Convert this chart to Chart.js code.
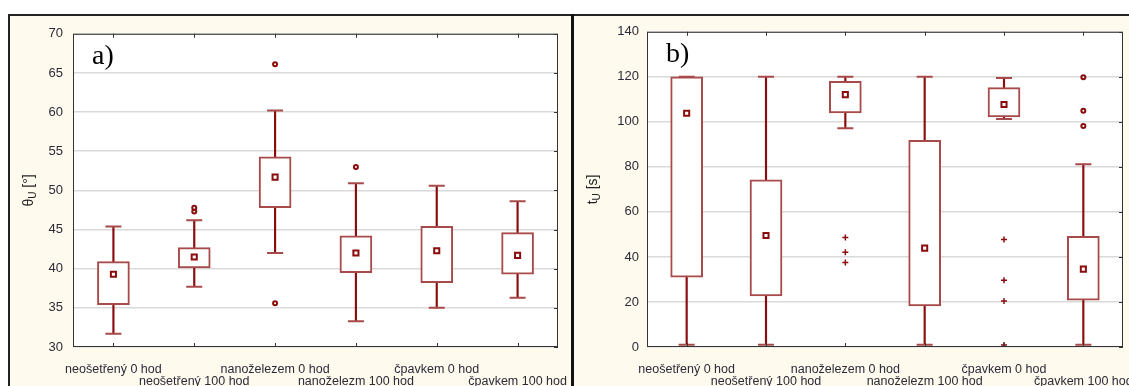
<!DOCTYPE html>
<html>
<head>
<meta charset="utf-8">
<script src="https://cdn.jsdelivr.net/npm/chart.js@4.4.1/dist/chart.umd.min.js"></script>
<style>
  body { margin: 0; width: 1129px; height: 386px; overflow: hidden; background: #fff; position: relative; }
  #wrap { position: absolute; left: 8px; top: 14px; width: 1121px; height: 380px; background: #fffaee;
          border-top: 2px solid #222; border-left: 2px solid #222; }
  #divider { position: absolute; left: 571px; top: 14px; width: 3px; height: 380px; background: #111; }
  canvas { position: absolute; }
  #cA { left: 10px; top: 16px; }
  #cB { left: 574px; top: 16px; }
</style>
</head>
<body>
<div id="wrap"></div>
<div id="divider"></div>
<canvas id="cA" width="561" height="370"></canvas>
<canvas id="cB" width="559" height="370"></canvas>
<script>
// kategorie (stejné pro oba grafy)
const categories = ["neošetřený 0 hod", "neošetřený 100 hod", "nanoželezem 0 hod",
                    "nanoželezm 100 hod", "čpavkem 0 hod", "čpavkem 100 hod"];

// a) úhel θU [°]
const minA    = [31.7, 37.7, 42.0, 33.3, 35.0, 36.3];
const q1A     = [35.4, 40.1, 47.8, 39.5, 38.2, 39.3];
const medA    = [39.3, 41.5, 51.7, 42.0, 42.3, 41.7];
const q3A     = [40.9, 42.7, 54.3, 44.2, 45.4, 44.6];
const maxA    = [45.4, 46.2, 60.2, 50.9, 50.6, 48.6];
const outA    = [[], [47.3, 47.8], [66.1, 35.6], [53.0], [], []];
const extA    = [[], [], [], [], [], []];
const ticksA  = { min: 30, max: 70, step: 5 };

// b) čas tU [s]
const minB    = [1, 1, 97.2, 1, 101.3, 1];
const q1B     = [31.0, 22.7, 104.0, 18.2, 102.2, 20.8];
const medB    = [103.8, 49.5, 112.1, 43.9, 107.7, 34.6];
const q3B     = [120, 74.3, 118.0, 91.8, 115.2, 49.2];
const maxB    = [120, 120, 120, 120, 119.5, 81.2];
const outB    = [[], [], [], [], [], [119.8, 104.9, 98.2]];
const extB    = [[], [], [48.6, 42.1, 37.5], [], [47.8, 29.7, 20.4, 0.9], []];
const ticksB  = { min: 0, max: 140, step: 20 };

const dark = "#8b0c0c";
const boxCol = "#a84a4a";

function points(list) {
  const pts = [];
  list.forEach((vals, i) => vals.forEach(v => pts.push({ x: categories[i], y: v })));
  return pts;
}

const framePlugin = {
  id: "frame",
  beforeDraw(chart) {
    const a = chart.chartArea, ctx = chart.ctx;
    ctx.save();
    ctx.fillStyle = "#fff";
    ctx.fillRect(a.left, a.top, a.right - a.left, a.bottom - a.top);
    ctx.restore();
  },
  afterDraw(chart, args, opts) {
    const a = chart.chartArea, ctx = chart.ctx;
    const xs = chart.scales.x, ys = chart.scales.y;
    ctx.save();
    ctx.strokeStyle = "#333";
    ctx.lineWidth = 1;
    ctx.strokeRect(a.left + 0.5, a.top + 0.5, a.right - a.left - 1, a.bottom - a.top - 1);
    ctx.beginPath();
    xs.ticks.forEach((t, i) => {
      const x = Math.round(xs.getPixelForTick(i)) + 0.5;
      ctx.moveTo(x, a.top); ctx.lineTo(x, a.top + 4);
      ctx.moveTo(x, a.bottom); ctx.lineTo(x, a.bottom - 4);
    });
    ys.ticks.forEach((t, i) => {
      const y = Math.round(ys.getPixelForTick(i)) + 0.5;
      ctx.moveTo(a.right, y); ctx.lineTo(a.right - 4, y);
    });
    ctx.stroke();

    // označení panelu
    ctx.fillStyle = "#000";
    ctx.font = "28px 'Liberation Serif', 'Times New Roman', serif";
    ctx.textBaseline = "alphabetic";
    ctx.fillText(opts.letter, a.left + 19, a.top + 30);

    // popis osy y s dolním indexem
    ctx.translate(opts.titleX, (a.top + a.bottom) / 2);
    ctx.rotate(-Math.PI / 2);
    ctx.fillStyle = "#222";
    ctx.textBaseline = "middle";
    const f1 = "14px 'Liberation Sans', Arial, sans-serif";
    const f2 = "10px 'Liberation Sans', Arial, sans-serif";
    ctx.font = f1; const w1 = ctx.measureText(opts.title[0]).width;
    ctx.font = f2; const w2 = ctx.measureText(opts.title[1]).width;
    ctx.font = f1; const w3 = ctx.measureText(opts.title[2]).width;
    let x = -(w1 + w2 + w3) / 2;
    ctx.font = f1; ctx.fillText(opts.title[0], x, 0); x += w1;
    ctx.font = f2; ctx.fillText(opts.title[1], x, 4); x += w2;
    ctx.font = f1; ctx.fillText(opts.title[2], x, 0);
    ctx.restore();
  }
};

function makeChart(id, d) {
  return new Chart(document.getElementById(id), {
    data: {
      labels: categories,
      datasets: [
        { type: "bar", data: d.min.map((v, i) => [v, d.max[i]]), backgroundColor: dark,
          barThickness: 1.5, grouped: false, order: 4 },
        { type: "line", data: d.min.concat(d.max).map((v, i) => ({ x: categories[i % 6], y: v })),
          showLine: false, pointStyle: "line", pointRadius: 8, borderColor: boxCol,
          pointBorderWidth: 2, order: 3 },
        { type: "bar", data: d.q1.map((v, i) => [v, d.q3[i]]), backgroundColor: "#fff",
          borderColor: boxCol, borderWidth: 2, borderSkipped: false, barThickness: 32,
          grouped: false, order: 2 },
        { type: "line", data: d.med, showLine: false, pointStyle: "rect", pointRadius: 3.6,
          pointBackgroundColor: "#fff", pointBorderColor: dark, pointBorderWidth: 2, order: 1 },
        { type: "line", data: points(d.out), showLine: false, pointStyle: "circle", pointRadius: 2,
          pointBackgroundColor: "#fff", pointBorderColor: dark, pointBorderWidth: 2, order: 0 },
        { type: "line", data: points(d.ext), showLine: false, pointStyle: "cross", pointRadius: 3,
          pointBorderColor: dark, pointBorderWidth: 1.5, order: 0 }
      ]
    },
    options: {
      responsive: false,
      animation: false,
      layout: { padding: { top: 15, right: d.padRight, left: 0, bottom: 0 } },
      plugins: {
        legend: { display: false },
        tooltip: { enabled: false },
        frame: { letter: d.letter, title: d.title, titleX: d.titleX }
      },
      scales: {
        x: {
          type: "category",
          offset: true,
          grid: { display: false },
          border: { display: false },
          ticks: {
            autoSkip: false, maxRotation: 0, padding: 8,
            color: "#2a2a38",
            font: { family: "'Liberation Sans', Arial, sans-serif", size: 12.5, lineHeight: 0.98 },
            callback: (v, i) => i % 2 === 0 ? [categories[i], ""] : ["", categories[i]]
          },
          afterFit: s => { s.height = 39; s.paddingLeft = 0; s.paddingRight = 0; }
        },
        y: {
          min: d.ticks.min, max: d.ticks.max,
          grid: { color: "#dadada", lineWidth: 1.6, drawTicks: false },
          border: { display: false },
          ticks: {
            stepSize: d.ticks.step, padding: d.tickPad, color: "#2a2a38",
            font: { family: "'Liberation Sans', Arial, sans-serif", size: 13 }
          },
          afterFit: s => { s.width = d.axisW; }
        }
      }
    },
    plugins: [framePlugin]
  });
}

makeChart("cA", { min: minA, q1: q1A, med: medA, q3: q3A, max: maxA, out: outA, ext: extA,
  ticks: ticksA, letter: "a)", title: ["θ", "U", " [°]"], titleX: 19, axisW: 63, padRight: 13, tickPad: 10 });
makeChart("cB", { min: minB, q1: q1B, med: medB, q3: q3B, max: maxB, out: outB, ext: extB,
  ticks: ticksB, letter: "b)", title: ["t", "U", " [s]"], titleX: 19, axisW: 73, padRight: 2, tickPad: 8 });
</script>
</body>
</html>
